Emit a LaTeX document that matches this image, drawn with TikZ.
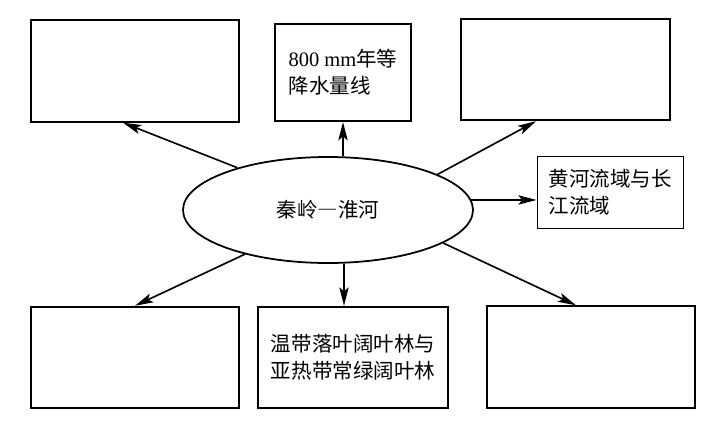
\documentclass[tikz,border=0pt]{standalone}
\usepackage{fontspec}
\setmainfont{Liberation Serif}
\newfontfamily\cjk{Noto Sans CJK SC}
\usepackage{tikz}
\usetikzlibrary{arrows.meta, shapes.geometric, calc}

\begin{document}
\begin{tikzpicture}[
    box/.style={draw=black, line width=1.8pt, fill=white, minimum width=6.24cm, minimum height=3.04cm, align=left, inner sep=0pt, font=\fontsize{17.5}{23}\selectfont\cjk},
    thinbox/.style={box, line width=0.8pt, minimum width=4.38cm, minimum height=2.16cm},
    oval/.style={ellipse, draw=black, line width=1.5pt, fill=white, minimum width=8.7cm, minimum height=3.18cm, inner sep=0pt, font=\fontsize{17.5}{23}\selectfont\cjk},
    arr/.style={-{Stealth[length=5.5mm, width=2.8mm, inset=1.2mm]}, line width=1.4pt}
]
    \useasboundingbox (0,0) rectangle (21.66,-12.87);

    % Top row
    \node[box] (tl) at (4.05, -2.13) {};
    \node[box, minimum width=4.08cm, minimum height=2.91cm] (tm) at (10.29, -2.175) {{\rmfamily 800 mm}年等\\降水量线};
    \node[box, minimum width=6.27cm] (tr) at (16.965, -2.085) {};

    % Centre
    \node[oval] (ell) at (9.84, -6.3) {秦岭{\addfontfeatures{RawFeature=+fwid}—}淮河};
    \node[thinbox] (rb) at (18.3, -5.775) {黄河流域与长\\江流域};

    % Bottom row
    \node[box] (bl) at (4.05, -10.725) {};
    \node[box, minimum width=5.7cm] (bm) at (10.59, -10.725) {温带落叶阔叶林与\\亚热带常绿阔叶林};
    \node[box] (br) at (17.73, -10.71) {};

    % Arrow ends
    \coordinate (tltip) at ([xshift=-0.36cm]tl.south);
    \coordinate (trtip) at ([xshift=-0.885cm]tr.south);
    \coordinate (bmtip) at ([xshift=-0.27cm]bm.north);
    \coordinate (brtip) at ([xshift=-0.45cm]br.north);

    % Connectors
    \draw[arr] (ell.155) -- (tltip);
    \draw[arr] (tm.south |- ell.north) -- (tm.south);
    \draw[arr] (ell.18) -- (trtip);
    \draw[arr] (ell.4) -- (ell.4 -| rb.west);
    \draw[arr] (ell.208) -- (bl.north);
    \draw[arr] (bmtip |- ell.south) -- (bmtip);
    \draw[arr] (ell.344) -- (brtip);
\end{tikzpicture}
\end{document}
